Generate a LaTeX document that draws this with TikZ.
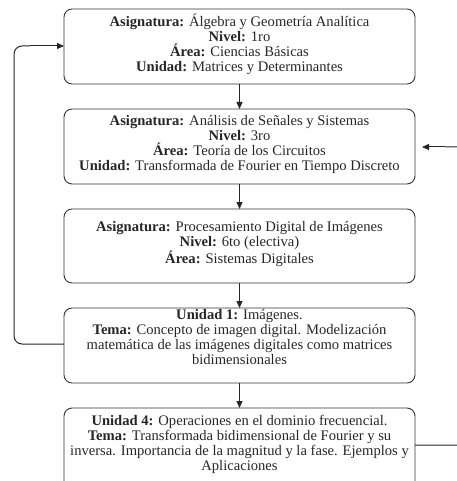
\documentclass[tikz,border=0pt]{standalone}
\usepackage{fontspec}
\setmainfont{Liberation Serif}
\usetikzlibrary{arrows.meta}
\begin{document}
\begin{tikzpicture}[x=1pt,y=-1pt,
  box/.style={draw=black!80, line width=0.9pt, rounded corners=8pt},
  txt/.style={align=center, inner sep=0pt, font=\fontsize{14.6}{15}\selectfont, text=black!85},
  conn/.style={draw=black!85, line width=1pt, -{Triangle[length=7pt,width=6pt]}},
  link/.style={draw=black!85, line width=1pt, rounded corners=8pt}]
\useasboundingbox (0,0) rectangle (456,481);
% boxes
\draw[box] (64,9) rectangle (415,84) node[midway] (b1) {};
\draw[box] (64,109) rectangle (415,184) node[midway] (b2) {};
\draw[box] (64,209) rectangle (415,283) node[midway] (b3) {};
\draw[box] (64,308) rectangle (415,383) node[midway] (b4) {};
\draw[box] (64,408) rectangle (415,490) node[midway] (b5) {};
\coordinate (b1t) at (239.5,9);  \coordinate (b1b) at (239.5,84);
\coordinate (b2t) at (239.5,109); \coordinate (b2b) at (239.5,184);
\coordinate (b3t) at (239.5,209); \coordinate (b3b) at (239.5,283);
\coordinate (b4t) at (239.5,308); \coordinate (b4b) at (239.5,383);
\coordinate (b5t) at (239.5,408);
\coordinate (b1w) at (64,46);
\coordinate (b4w) at (64,344);
\coordinate (b2e) at (422,147);
\coordinate (b5e) at (415,445);
% texts
\node[txt] (t1) at (239.5,44) {\textbf{Asignatura:} Álgebra y Geometría Analítica\\\textbf{Nivel:} 1ro\\\textbf{Área:} Ciencias Básicas\\\textbf{Unidad:} Matrices y Determinantes};
\node[txt] (t2) at (239.5,144) {\textbf{Asignatura:} Análisis de Señales y Sistemas\\\textbf{Nivel:} 3ro\\\textbf{Área:} Teoría de los Circuitos\\\textbf{Unidad:} Transformada de Fourier en Tiempo Discreto};
\node[txt] (t3) at (239.5,244) {\textbf{Asignatura:} Procesamiento Digital de Imágenes\\\textbf{Nivel:} 6to (electiva)\\\textbf{Área:} Sistemas Digitales};
\node[txt] (t4) at (239.5,337) {\textbf{Unidad 1:} Imágenes.\\\textbf{Tema:} Concepto de imagen digital. Modelización\\matemática de las imágenes digitales como matrices\\bidimensionales};
\node[txt] (t5) at (239.5,444.5) {\textbf{Unidad 4:} Operaciones en el dominio frecuencial.\\\textbf{Tema:} Transformada bidimensional de Fourier y su\\inversa. Importancia de la magnitud y la fase. Ejemplos y\\Aplicaciones};
% connectors
\draw[conn] (b1b) -- (b2t);
\draw[conn] (b2b) -- (b3t);
\draw[conn] (b3b) -- (b4t);
\draw[conn] (b4b) -- (b5t);
\draw[link] (b4w) -- (14,344) -- (14,46) -- (30,46);
\draw[conn] (30,46) -- (b1w);
\draw[link] (b5e) -- (466,445) -- (466,147) -- (445,147);
\draw[conn] (445,147) -- (b2e);
\end{tikzpicture}
\end{document}
